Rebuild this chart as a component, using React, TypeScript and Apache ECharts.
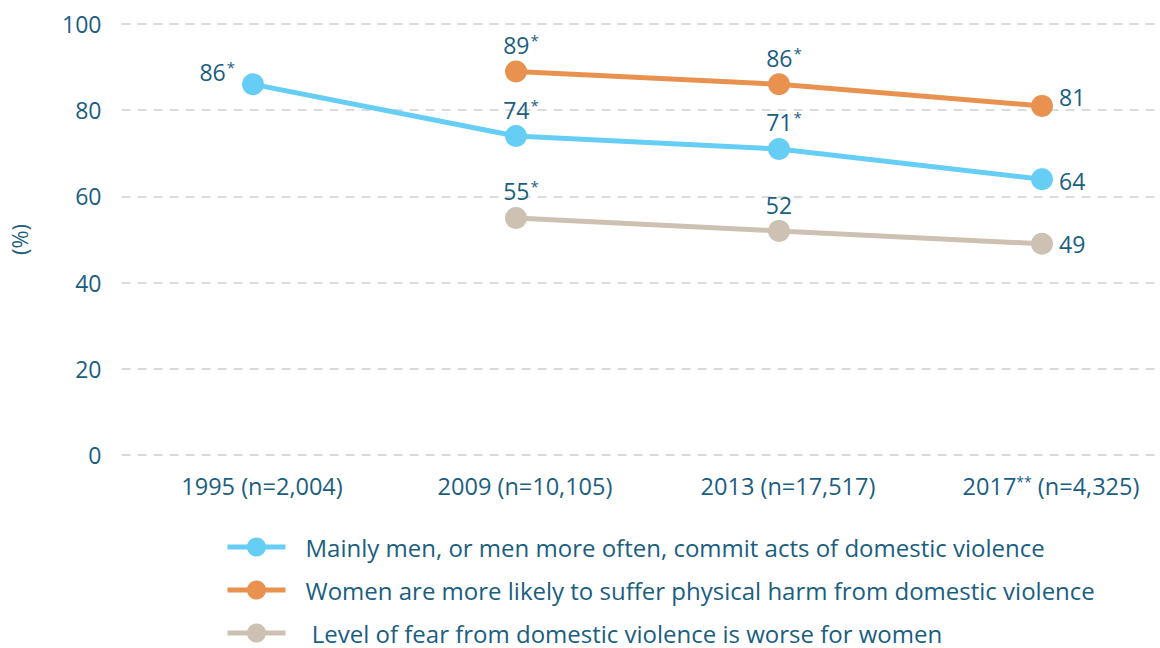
import React, { useEffect, useRef } from "react";
import * as echarts from "echarts";

const categories = ["1995 (n=2,004)", "2009 (n=10,105)", "2013 (n=17,517)", "2017** (n=4,325)"];
const seriesNames = [
  "Mainly men, or men more often, commit acts of domestic violence",
  "Women are more likely to suffer physical harm from domestic violence",
  " Level of fear from domestic violence is worse for women",
];
const menValues = [86, 74, 71, 64];
const harmValues = [null, 89, 86, 81];
const fearValues = [null, 55, 52, 49];
const menMarks = ["*", "*", "*", ""];
const harmMarks = ["", "*", "*", ""];
const fearMarks = ["", "*", "", ""];
const yTicks = [0, 20, 40, 60, 80, 100];

// label placement (layout only)
const endOffsets = [2, -9, 0];

const TEXT = "#1a5e80";
const FONT = "Open Sans";
const colors = ["#66cef5", "#e9924f", "#cdc1b3"];

function labelFor(idx: number, s: number, starred: boolean) {
  if (idx === 0) return { position: "left", distance: 7, offset: [0, -12] };
  if (idx === 3) return { position: "right", distance: 6, offset: [0, endOffsets[s]] };
  return { position: "top", distance: 3, offset: [starred ? 5 : 0, 0] };
}

function buildData(values: (number | null)[], marks: string[], s: number) {
  return values.map((v, i) => {
    if (v === null) return null;
    const l = labelFor(i, s, !!marks[i]);
    return {
      value: v,
      label: {
        show: true,
        position: l.position,
        distance: l.distance,
        offset: l.offset,
        formatter: () => (marks[i] ? `{v|${v}}{s|${marks[i]}}` : `{v|${v}}`),
        rich: {
          v: { fontSize: 23, color: TEXT, fontFamily: FONT },
          s: { fontSize: 15, color: TEXT, fontFamily: FONT, verticalAlign: "top", padding: [0, 0, 10, 1] },
        },
      },
    };
  });
}

export default function App() {
  const ref = useRef<HTMLDivElement>(null);
  useEffect(() => {
    if (!ref.current) return;
    const chart = echarts.init(ref.current, null, { renderer: "svg" });
    const mk = (name: string, values: (number | null)[], marks: string[], color: string, s: number) => ({
      name,
      type: "line",
      data: buildData(values, marks, s),
      symbol: "circle",
      symbolSize: 22,
      connectNulls: false,
      itemStyle: { color },
      lineStyle: { color, width: 5 },
      emphasis: { disabled: true },
    });
    chart.setOption({
      animation: false,
      textStyle: { fontFamily: FONT },
      grid: {
        left: 121.5,
        top: 24,
        width: 1052,
        bottom: 193,
        containLabel: false,
        outerBoundsMode: "none",
      },
      xAxis: {
        type: "category",
        data: categories,
        boundaryGap: true,
        axisLine: { show: false },
        axisTick: { show: false },
        axisLabel: {
          margin: 19,
          padding: [0, 0, 0, 18],
          formatter: (val: string) => {
            const m = val.match(/^(\d+)(\*+)?(.*)$/);
            if (m && m[2]) return `{t|${m[1]}}{s|${m[2]}}{t|${m[3]}}`;
            return `{t|${val}}`;
          },
          rich: {
            t: { fontSize: 23.5, color: TEXT, fontFamily: FONT },
            s: { fontSize: 14, color: TEXT, fontFamily: FONT, verticalAlign: "top", padding: [0, 0, 10, 0] },
          },
        },
      },
      yAxis: {
        type: "value",
        min: yTicks[0],
        max: yTicks[yTicks.length - 1],
        interval: 20,
        name: "(%)",
        nameLocation: "middle",
        nameGap: 92,
        nameRotate: 90,
        nameTextStyle: { fontSize: 22, color: TEXT, fontFamily: FONT },
        axisLine: { show: false },
        axisTick: { show: false },
        axisLabel: { margin: 20, fontSize: 23, color: TEXT, fontFamily: FONT },
        splitLine: { show: true, lineStyle: { color: "#cfcfcf", width: 1.5, type: [9, 7] } },
      },
      legend: {
        orient: "vertical",
        left: 225,
        top: 535,
        height: 140,
        padding: 0,
        itemWidth: 58,
        itemHeight: 24,
        itemGap: 19,
        selectedMode: false,
        lineStyle: { width: 5 },
        textStyle: { fontSize: 24, color: TEXT, fontFamily: FONT, padding: [0, 0, 0, 15] },
        data: seriesNames,
      },
      series: [
        mk(seriesNames[0], menValues, menMarks, colors[0], 0),
        mk(seriesNames[1], harmValues, harmMarks, colors[1], 1),
        mk(seriesNames[2], fearValues, fearMarks, colors[2], 2),
      ],
    });
    return () => chart.dispose();
  }, []);
  return (
    <div
      ref={ref}
      style={{ position: "absolute", left: 0, top: 0, width: 1160, height: 648, background: "#fff" }}
    />
  );
}
